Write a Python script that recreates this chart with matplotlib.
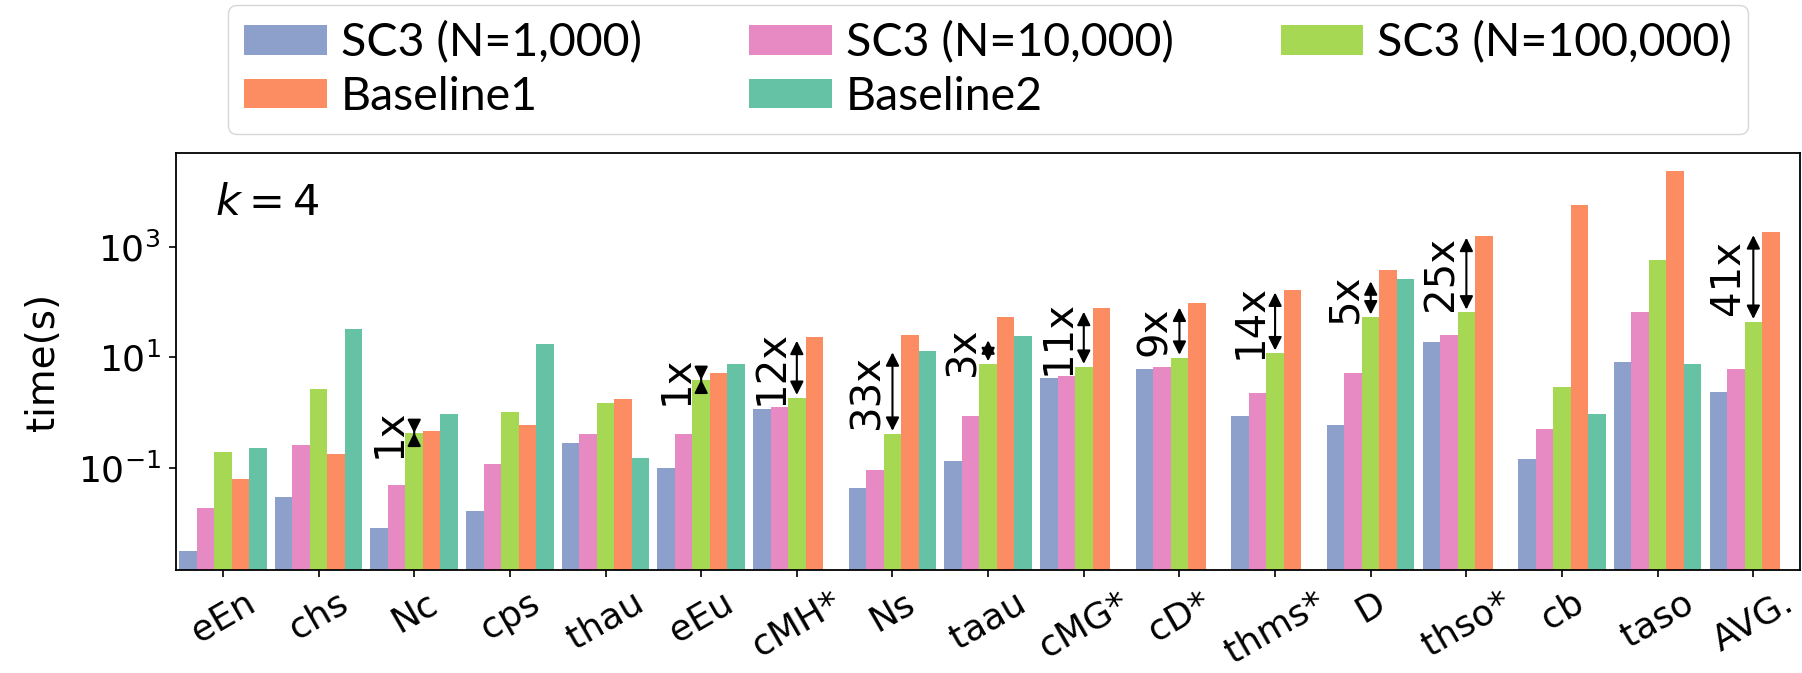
import numpy as np
import matplotlib
matplotlib.use('Agg')
import matplotlib.pyplot as plt

nan = np.nan

groups = ['eEn', 'chs', 'Nc', 'cps', 'thau', 'eEu', 'cMH*', 'Ns', 'taau',
          'cMG*', 'cD*', 'thms*', 'D', 'thso*', 'cb', 'taso', 'AVG.']

sc3_1k = [0.0032, 0.030, 0.0083, 0.017, 0.29, 0.10, 1.16, 0.044, 0.135,
          4.3, 6.2, 0.88, 0.6, 19.3, 0.147, 8.3, 2.4]
sc3_10k = [0.019, 0.26, 0.049, 0.12, 0.42, 0.42, 1.29, 0.093, 0.87,
           4.7, 6.8, 2.26, 5.2, 25.5, 0.50, 65, 6.2]
sc3_100k = [0.195, 2.7, 0.43, 1.05, 1.5, 3.9, 1.87, 0.42, 7.6,
            6.8, 9.9, 11.9, 53, 65, 2.95, 565, 44]
baseline1 = [0.063, 0.18, 0.46, 0.6, 1.8, 5.2, 23, 25.6, 53,
             77, 94, 162, 380, 1540, 5700, 23600, 1870]
baseline2 = [0.23, 33, 0.95, 17.5, 0.15, 7.5, nan, 13.3, 24.6,
             nan, nan, nan, 264, nan, 0.955, 7.5, nan]

# speedup of Baseline1 over SC3 (N=100,000)
speedup_groups = ['Nc', 'eEu', 'cMH*', 'Ns', 'taau', 'cMG*', 'cD*', 'thms*', 'D', 'thso*', 'AVG.']
speedup = [1, 1, 12, 33, 3, 11, 9, 14, 5, 25, 41]

series = [sc3_1k, sc3_10k, sc3_100k, baseline1, baseline2]
names = ['SC3 (N=1,000)', 'SC3 (N=10,000)', 'SC3 (N=100,000)', 'Baseline1', 'Baseline2']
colors = ['#8da0cb', '#e78ac3', '#a6d854', '#fc8d62', '#66c2a5']

fig = plt.figure(figsize=(18.02, 6.73), dpi=100)
ax = fig.add_axes([0.0977, 0.153, 0.9013, 0.6197])

x = np.arange(len(groups))
w = 0.183
bars = []
for k, (vals, name, c) in enumerate(zip(series, names, colors)):
    bars.append(ax.bar(x + (k - 2) * w, vals, w, color=c, label=name))

ax.set_yscale('log')
ax.set_ylim(1.45e-3, 4.9e4)
ax.set_xlim(-0.49, 16.49)
ax.set_yticks([1e-1, 1e1, 1e3])
ax.minorticks_off()
ax.set_xticks(x)
ax.set_xticklabels(groups, rotation=30)
ax.tick_params(labelsize=26, length=5, width=1.2, pad=6)
for s in ax.spines.values():
    s.set_linewidth(1.3)

ax.set_ylabel('time(s)', fontsize=28)
ax.yaxis.set_label_coords(-0.07, 0.5)

ax.text(0.024, 0.851, '$k=4$', transform=ax.transAxes, fontsize=31, va='baseline')

# speedup arrows
for g, r in zip(speedup_groups, speedup):
    i = groups.index(g)
    y0 = sc3_100k[i]
    y1 = y0 * max(r, 1.02)
    ax.annotate('', xy=(i, y1), xytext=(i, y0),
                arrowprops=dict(arrowstyle='<|-|>,head_length=0.4,head_width=0.2',
                                mutation_scale=20, lw=1.5, color='black'))
    ax.text(i - 0.26, np.sqrt(y0 * y1), '%dx' % r, rotation=90,
            ha='center', va='center', fontsize=29)

# legend filled row by row
order = [0, 3, 1, 4, 2]
ax.legend([bars[j] for j in order], [names[j] for j in order],
          loc='upper center', bbox_to_anchor=(0.5, 1.355), borderaxespad=0,
          ncol=3, prop={'family': 'Lato', 'size': 33.5},
          handlelength=1.78, handleheight=0.6, handletextpad=0.3,
          labelspacing=0.25, borderpad=0.35, columnspacing=2.3)

fig.savefig('out.png', dpi=100)
